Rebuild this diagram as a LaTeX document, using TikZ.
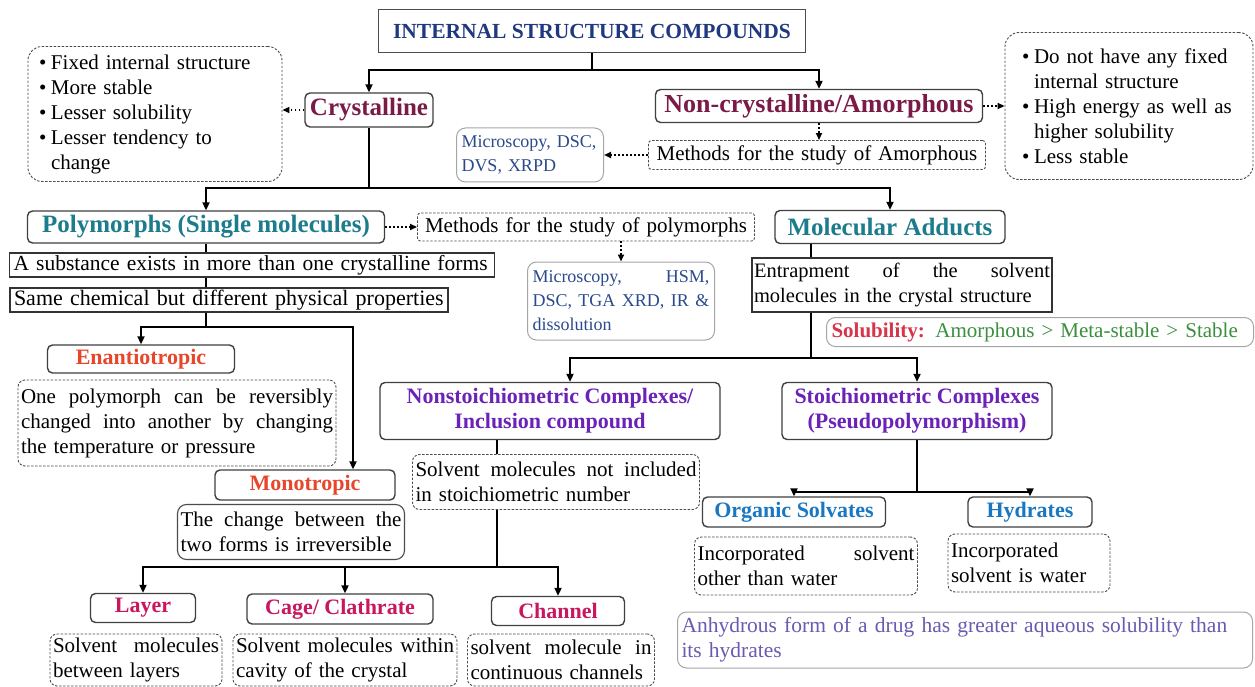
\documentclass[tikz,border=0pt]{standalone}
\usepackage{fontspec}
\setmainfont{Liberation Serif}
\usetikzlibrary{arrows.meta}

\definecolor{titleblue}{HTML}{1F3880}
\definecolor{crystred}{HTML}{7A1A47}
\definecolor{tealhead}{HTML}{1C7C8C}
\definecolor{tropicred}{HTML}{E8462B}
\definecolor{complexviolet}{HTML}{6A22B8}
\definecolor{cagered}{HTML}{C8175E}
\definecolor{solvblue}{HTML}{1A78C2}
\definecolor{toolblue}{HTML}{2B4A8C}
\definecolor{anhydviolet}{HTML}{6B5AB0}
\definecolor{solred}{HTML}{D9354A}
\definecolor{solgreen}{HTML}{3A8F3E}

\newcommand\fs[2]{\fontsize{#1}{#2}\selectfont}
\newcommand\spread[1]{{\spaceskip=0pt\xspaceskip=0pt\makebox[\linewidth][s]{#1}}}
\newcommand\bul{\makebox[12pt][l]{\textbullet}}

\tikzset{
  titlebox/.style={draw=black!70, line width=1.6pt, fill=white, inner sep=0pt,
    text=titleblue, font=\bfseries\fs{21.5}{25}},
  headbox/.style={draw=black!75, line width=1.4pt, rounded corners=5pt, fill=white,
    inner sep=0pt, font=\bfseries\fs{22}{25}, align=center},
  bighead/.style={headbox, font=\bfseries\fs{25}{28}},
  plainbox/.style={draw=black!80, line width=1.2pt, fill=white, inner xsep=4pt,
    inner ysep=0pt, align=left, font=\fs{22}{25}},
  dashbox/.style={draw=black!70, line width=0.9pt, dash pattern=on 2.4pt off 1.6pt,
    rounded corners=7pt, fill=white, inner xsep=3pt, inner ysep=0pt, align=left,
    font=\fs{21}{25}},
  solidbox/.style={dashbox, solid, line width=1.1pt},
  greybox/.style={draw=black!35, line width=1pt, rounded corners=9pt, fill=white,
    inner xsep=5pt, inner ysep=0pt, align=left, font=\fs{18}{24}},
  trunk/.style={line width=2.4pt},
  branch/.style={trunk, -{Triangle[length=8pt,width=7pt]}},
  dotlink/.style={line width=1.8pt, dash pattern=on 1.8pt off 2.2pt,
    -{Triangle[length=7pt,width=6pt]}}
}

\begin{document}
\begin{tikzpicture}[x=1pt,y=-1pt]
  \fill[white] (0,0) rectangle (1255,687);
  \useasboundingbox (0,0) rectangle (1255,687);

  % top level
  \node[titlebox, minimum width=427, minimum height=43] (title) at (592,31) {INTERNAL STRUCTURE COMPOUNDS};
  \node[bighead, text=crystred, minimum width=128, minimum height=34] (cryst) at (369,110) {Crystalline};
  \node[bighead, text=crystred, font=\bfseries\fs{26}{28}, minimum width=327, minimum height=33] (amorph) at (819,106) {Non-crystalline/Amorphous};

  \node[dashbox, rounded corners=14pt, inner xsep=11pt, text width=232, minimum height=135] (crystProps) at (155,114)
    {\bul Fixed internal structure\\ \bul More stable\\ \bul Lesser solubility\\ \bul Lesser tendency to\\ \hspace*{12pt}change};
  \node[dashbox, rounded corners=14pt, inner xsep=17pt, text width=214, minimum height=147] (amorphProps) at (1129,106)
    {\bul Do not have any fixed\\ \hspace*{12pt}internal structure\\ \bul High energy as well as\\ \hspace*{12pt}higher solubility\\ \bul Less stable};

  \node[dashbox, rounded corners=3pt, align=center, text width=331, minimum height=29] (amMethods) at (817,155) {Methods for the study of Amorphous};
  \node[greybox, text=toolblue, text width=137, minimum height=54] (amTools) at (530,155) {Microscopy, DSC,\\ DVS, XRPD};

  % crystalline branch
  \node[bighead, text=tealhead, minimum width=357, minimum height=32] (poly) at (206,227) {Polymorphs (Single molecules)};
  \node[dashbox, rounded corners=3pt, align=center, text width=331, minimum height=28] (polyMethods) at (586,227) {Methods for the study of polymorphs};
  \node[bighead, text=tealhead, minimum width=230, minimum height=33] (adducts) at (890,227) {Molecular Adducts};

  \node[plainbox, font=\fs{21.5}{25}, text width=477, minimum height=24] (polyDef1) at (252,265) {A substance exists in more than one crystalline forms};
  \node[plainbox, text width=430, minimum height=24] (polyDef2) at (229,300) {Same chemical but different physical properties};
  \node[greybox, text width=177, minimum height=78] (polyTools) at (621,301)
    {\color{toolblue}\spread{Microscopy, HSM,}\\ \spread{DSC, TGA XRD, IR \&}\\ dissolution};

  \node[plainbox, font=\fs{20.5}{25}, inner xsep=2pt, text width=296, minimum height=54] (entrap) at (902,285)
    {\spread{Entrapment of the solvent}\\ molecules in the crystal structure};
  \node[greybox, font=\fs{21}{25}, text width=417, minimum height=29] (solub) at (1040,332)
    {{\color{solred}\bfseries Solubility:} {\color{solgreen}Amorphous > Meta-stable > Stable}};

  % polymorph types
  \node[headbox, text=tropicred, minimum width=187, minimum height=28] (enantio) at (141,359) {Enantiotropic};
  \node[dashbox, text width=312, minimum height=86] (enantioDesc) at (177,423)
    {\spread{One polymorph can be reversibly}\\ \spread{changed into another by changing}\\ the temperature or pressure};
  \node[headbox, text=tropicred, minimum width=180, minimum height=30] (mono) at (305,485) {Monotropic};
  \node[solidbox, rounded corners=9pt, text width=221, minimum height=55] (monoDesc) at (291,532)
    {\spread{The change between the}\\ two forms is irreversible};

  % molecular adducts
  \node[headbox, text=complexviolet, minimum width=340, minimum height=57] (nonstoich) at (550,411) {Nonstoichiometric Complexes/\\ Inclusion compound};
  \node[headbox, text=complexviolet, minimum width=270, minimum height=57] (stoich) at (917,411) {Stoichiometric Complexes\\ (Pseudopolymorphism)};
  \node[dashbox, text width=281, minimum height=55] (nonstoichDesc) at (556,482)
    {\spread{Solvent molecules not included}\\ in stoichiometric number};

  \node[headbox, text=cagered, minimum width=105, minimum height=29] (layer) at (143,608) {Layer};
  \node[headbox, text=cagered, minimum width=186, minimum height=30] (cage) at (340,609) {Cage/ Clathrate};
  \node[headbox, text=cagered, minimum width=133, minimum height=29] (channel) at (558,611) {Channel};
  \node[dashbox, text width=166, minimum height=52] (layerDesc) at (136,660)
    {\spread{Solvent molecules}\\ between layers};
  \node[dashbox, text width=218, minimum height=52] (cageDesc) at (345,660)
    {\spread{Solvent molecules within}\\ cavity of the crystal};
  \node[dashbox, text width=181, minimum height=52] (channelDesc) at (561,660)
    {\spread{solvent molecule in}\\ continuous channels};

  \node[headbox, text=solvblue, minimum width=183, minimum height=30] (organic) at (794,512) {Organic Solvates};
  \node[headbox, text=solvblue, minimum width=124, minimum height=30] (hydrates) at (1030,512) {Hydrates};
  \node[dashbox, text width=217, minimum height=58] (organicDesc) at (806,566)
    {\spread{Incorporated solvent}\\ other than water};
  \node[dashbox, text width=156, minimum height=58] (hydratesDesc) at (1029,563)
    {Incorporated\\ solvent is water};
  \node[greybox, font=\fs{21.5}{25}, text=anhydviolet, inner xsep=4pt, text width=567, minimum height=56] (anhydrous) at (965,640)
    {Anhydrous form of a drug has greater aqueous solubility than\\ its hydrates};

  % connectors
  \coordinate (split1) at (title.south |- 0,70);
  \draw[trunk] (title.south) -- (split1);
  \draw[branch] (split1) -| (cryst.north);
  \draw[branch] (split1) -| (amorph.north);

  \coordinate (split2) at (cryst.south |- 0,188);
  \draw[trunk] (cryst.south) -- (split2);
  \draw[branch] (split2) -| (poly.north);
  \draw[branch] (split2) -| (adducts.north);

  \draw[trunk] (poly.south) -- (poly.south |- polyDef1.north);
  \draw[trunk] (poly.south |- polyDef1.south) -- (poly.south |- polyDef2.north);
  \coordinate (split3) at (poly.south |- 0,327);
  \draw[trunk] (poly.south |- polyDef2.south) -- (split3);
  \draw[branch] (split3) -| (enantio.north);
  \draw[branch] (split3) -| (353,0 |- mono.north);

  \draw[trunk] (811,0 |- adducts.south) -- (811,0 |- entrap.north);
  \coordinate (split4) at (811,358);
  \draw[trunk] (811,0 |- entrap.south) -- (split4);
  \draw[branch] (split4) -| (570,0 |- nonstoich.north);
  \draw[branch] (split4) -| (stoich.north);

  \draw[trunk] (497,0 |- nonstoich.south) -- (497,0 |- nonstoichDesc.north);
  \coordinate (split5) at (497,567);
  \draw[trunk] (497,0 |- nonstoichDesc.south) -- (split5);
  \draw[branch] (split5) -| (layer.north);
  \draw[branch] (split5) -| (345,0 |- cage.north);
  \draw[branch] (split5) -| (channel.north);

  \coordinate (split6) at (stoich.south |- 0,492);
  \draw[trunk] (stoich.south) -- (split6);
  \draw[branch] (split6) -| (organic.north);
  \draw[branch] (split6) -| (hydrates.north);

  \draw[dotlink] (cryst.west) -- (crystProps.east |- cryst.west);
  \draw[dotlink] (amorph.east) -- (amorphProps.west |- amorph.east);
  \draw[dotlink] (amorph.south) -- (amorph.south |- amMethods.north);
  \draw[dotlink] (amMethods.west) -- (amTools.east |- amMethods.west);
  \draw[dotlink] (poly.east) -- (polyMethods.west |- poly.east);
  \draw[dotlink] (polyTools.north |- polyMethods.south) -- (polyTools.north);
\end{tikzpicture}
\end{document}
